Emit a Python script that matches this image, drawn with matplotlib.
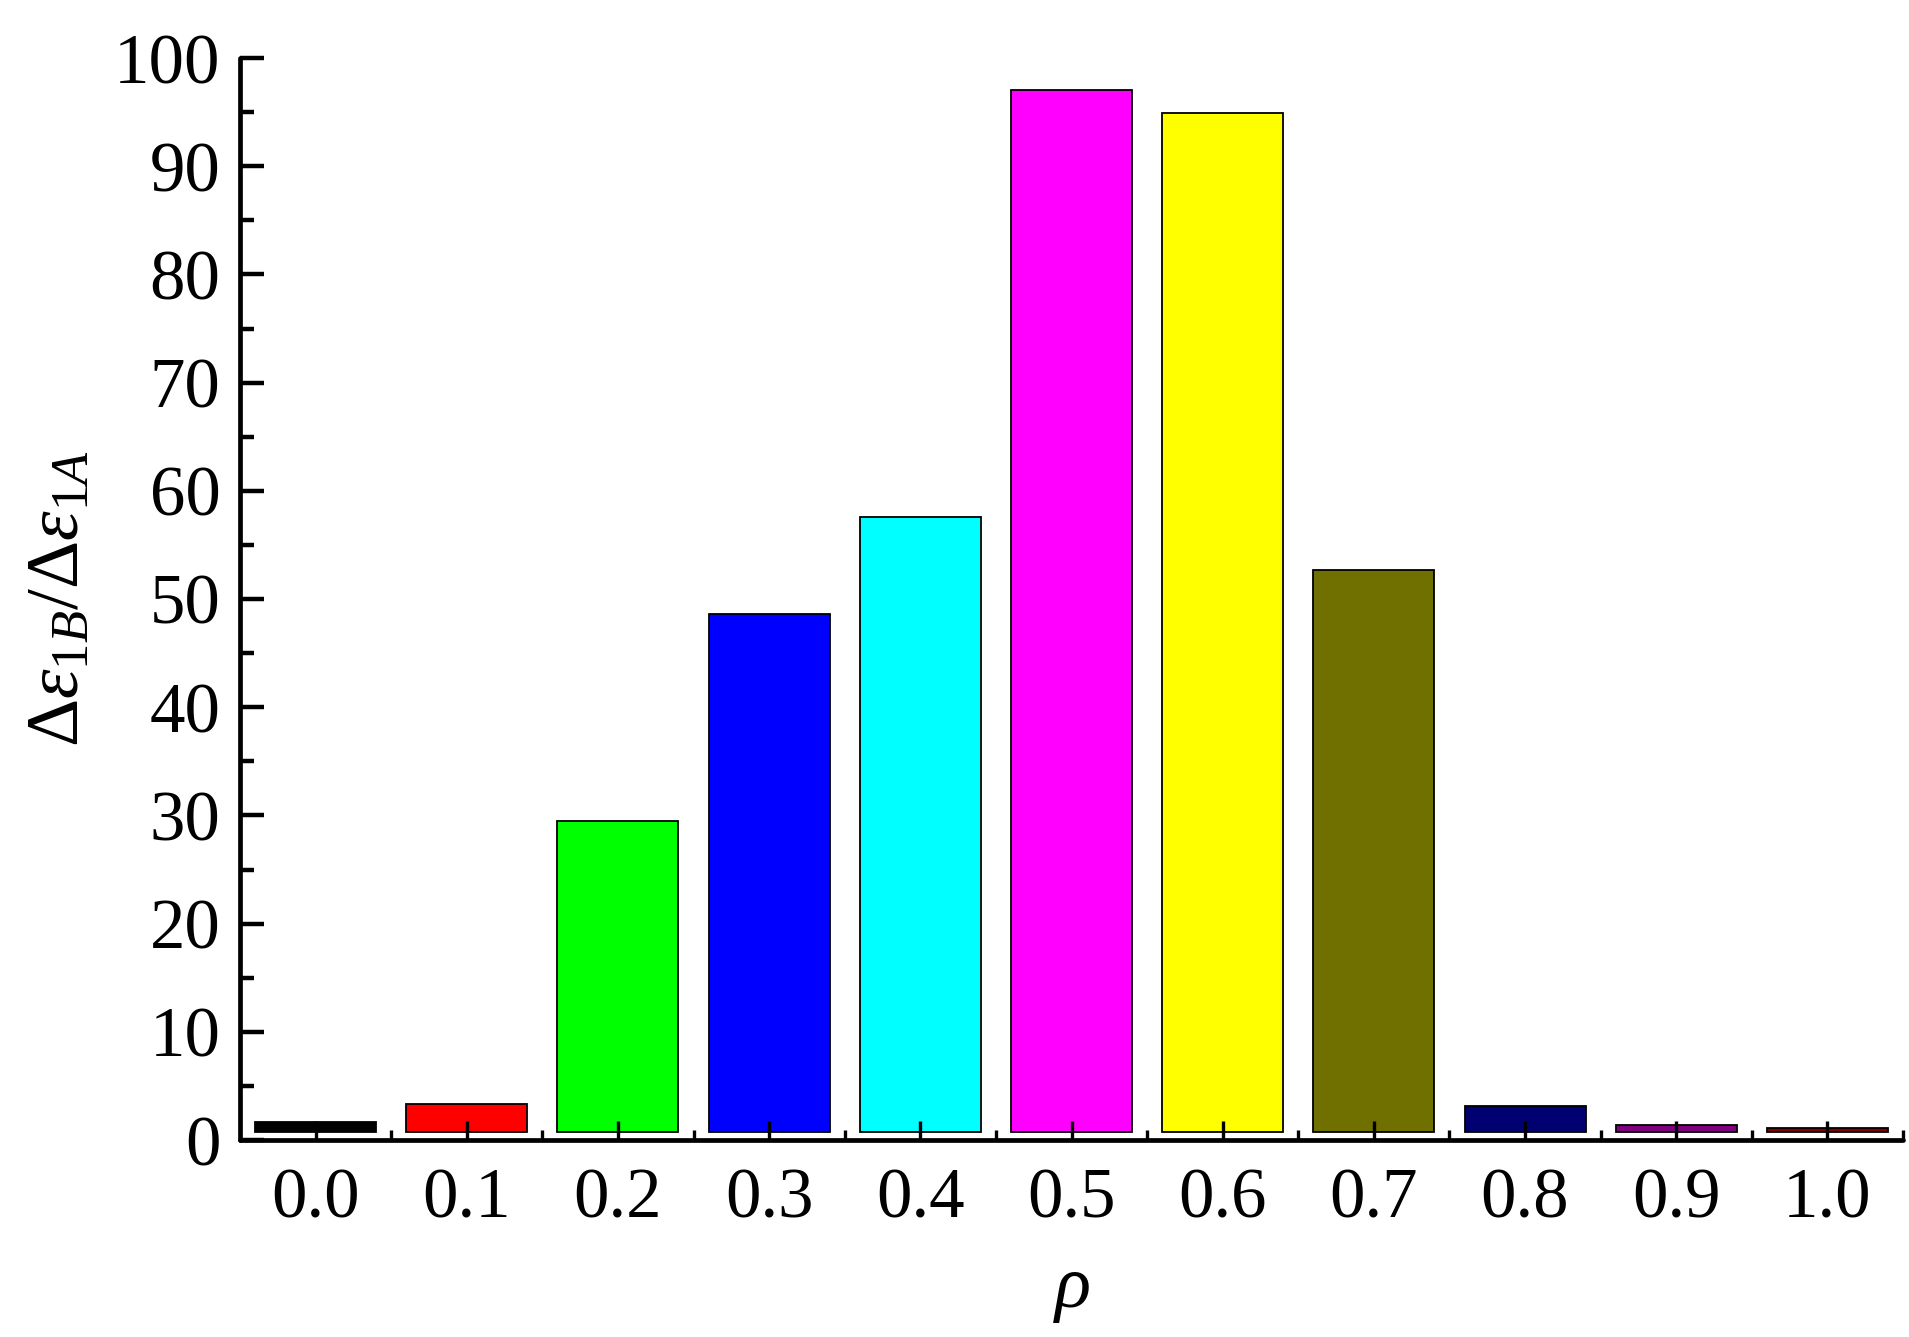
import matplotlib
matplotlib.use("Agg")
import matplotlib.pyplot as plt
from matplotlib.ticker import MultipleLocator, FixedLocator
import numpy as np

rho_labels = ["0.0", "0.1", "0.2", "0.3", "0.4", "0.5", "0.6", "0.7", "0.8", "0.9", "1.0"]
ratio_values = [1.7, 3.3, 29.5, 48.6, 57.6, 97.0, 94.9, 52.7, 3.1, 1.4, 1.15]
bar_colors = ["#000000", "#FF0000", "#00FF00", "#0000FF", "#00FFFF", "#FF00FF",
              "#FFFF00", "#707000", "#000070", "#800080", "#800000"]
baseline = 0.75

plt.rcParams['font.family'] = ['Liberation Serif', 'DejaVu Serif']
plt.rcParams['mathtext.fontset'] = 'custom'
plt.rcParams['mathtext.rm'] = 'Liberation Serif'
plt.rcParams['mathtext.it'] = 'Liberation Serif:italic'
plt.rcParams['mathtext.bf'] = 'Liberation Serif:bold'

fig = plt.figure(figsize=(19.09, 13.37), dpi=100)
ax = fig.add_axes([240/1909, 1 - 1140/1337, (1903 - 240)/1909, (1140 - 58)/1337])

x = np.arange(len(rho_labels))
heights = [v - baseline for v in ratio_values]
ax.bar(x, heights, bottom=baseline, width=0.8, color=bar_colors,
       edgecolor='black', linewidth=1.3, zorder=1)

ax.set_xlim(-0.5, len(rho_labels) - 0.5)
ax.set_ylim(0, 100)

ax.set_xticks(x)
ax.set_xticklabels(rho_labels)
ax.xaxis.set_minor_locator(FixedLocator(np.arange(-0.5, len(rho_labels), 1.0)[1:]))
ax.yaxis.set_major_locator(MultipleLocator(10))
ax.yaxis.set_minor_locator(MultipleLocator(5))

for side in ['top', 'right']:
    ax.spines[side].set_visible(False)
for side in ['left', 'bottom']:
    ax.spines[side].set_linewidth(3.4)
    ax.spines[side].set_capstyle('round')

ax.tick_params(axis='y', which='major', direction='in', length=17, width=3.2, pad=14, labelsize=51)
ax.tick_params(axis='y', which='minor', direction='in', length=10, width=3.2)
ax.tick_params(axis='x', which='major', direction='in', length=14, width=2.4, pad=20, labelsize=51)
ax.tick_params(axis='x', which='minor', direction='in', length=7, width=2.4)

ax.set_ylabel(r'$\Delta\varepsilon_{1B}/\Delta\varepsilon_{1A}$', fontsize=54, labelpad=14)
ax.set_xlabel(r'$\rho$', fontsize=54, labelpad=18)

fig.savefig('out.png', dpi=100)
